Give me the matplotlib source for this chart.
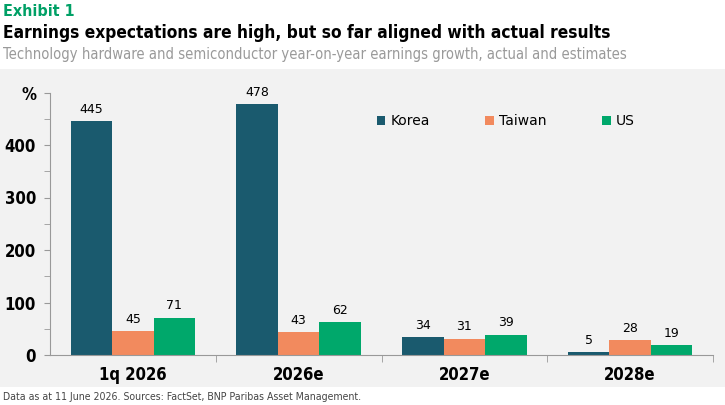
import matplotlib
matplotlib.use("Agg")
import matplotlib.pyplot as plt
from matplotlib.patches import Rectangle
import numpy as np

categories = ["1q 2026", "2026e", "2027e", "2028e"]
series_names = ["Korea", "Taiwan", "US"]
korea = [445, 478, 34, 5]
taiwan = [45, 43, 31, 28]
us = [71, 62, 39, 19]
colors = ["#1a5a6e", "#f28a5e", "#00a86b"]

W, H = 725, 405
fig = plt.figure(figsize=(W / 100, H / 100), dpi=100)
fig.patch.set_facecolor("white")

bg = fig.add_axes([0, 1 - 387 / H, 1, (387 - 69) / H], zorder=-5)
bg.set_axis_off()
bg.add_patch(Rectangle((0, 0), 1, 1, transform=bg.transAxes, facecolor="#f2f2f2", edgecolor="none"))

cond = ["DejaVu Sans"]
kw = dict(family=cond, fontstretch="condensed")
fig.text(3 / W, 1 - 11 / H, "Exhibit 1", color="#00a066", fontsize=11.5, fontweight="bold",
         va="center", ha="left", **kw)
fig.text(3 / W, 1 - 33 / H, "Earnings expectations are high, but so far aligned with actual results",
         color="black", fontsize=12.4, fontweight="bold", va="center", ha="left", **kw)
fig.text(3 / W, 1 - 55 / H, "Technology hardware and semiconductor year-on-year earnings growth, actual and estimates",
         color="#9a9a9a", fontsize=10.6, va="center", ha="left", **kw)
fig.text(3 / W, 1 - 397 / H, "Data as at 11 June 2026. Sources: FactSet, BNP Paribas Asset Management.",
         color="#444444", fontsize=7.6, va="center", ha="left", **kw)

ax = fig.add_axes([50 / W, 1 - 355 / H, (713 - 50) / W, (355 - 92.5) / H])
ax.set_facecolor("none")
x = np.arange(len(categories))
bw = 0.25
data = [korea, taiwan, us]
for i, (name, vals, c) in enumerate(zip(series_names, data, colors)):
    bars = ax.bar(x + (i - 1) * bw, vals, width=bw, color=c, label=name, zorder=2)
    for b, v in zip(bars, vals):
        ax.text(b.get_x() + b.get_width() / 2, v + 10, str(v), ha="center", va="bottom",
                fontsize=9, color="black", family="DejaVu Sans")

ax.set_xlim(-0.5, 3.5)
ax.set_ylim(0, 500)
ax.set_yticks([0, 100, 200, 300, 400, 500])
ax.set_yticklabels(["0", "100", "200", "300", "400", "%"])
ax.set_yticks(np.arange(50, 500, 100), minor=True)
ax.set_xticks(x)
ax.set_xticklabels(categories)
ax.set_xticks([0.5, 1.5, 2.5, 3.5], minor=True)
ax.tick_params(axis="x", which="major", length=0, pad=8, labelsize=12)
ax.tick_params(axis="x", which="minor", length=5, color="#999999")
ax.tick_params(axis="y", which="both", length=4, color="#999999", labelsize=12, pad=6)
for lab in ax.get_xticklabels() + ax.get_yticklabels():
    lab.set_family(cond)
    lab.set_fontstretch("condensed")
    lab.set_fontweight("bold")
for s in ["top", "right"]:
    ax.spines[s].set_visible(False)
for s in ["left", "bottom"]:
    ax.spines[s].set_color("#999999")
    ax.spines[s].set_linewidth(0.8)

leg = ax.legend(loc="upper left", bbox_to_anchor=((371 - 50) / 663, 1 - (119 - 92.5) / 262.5 + 0.04),
                ncol=3, frameon=False, fontsize=10, handlelength=0.6, handleheight=0.6,
                handletextpad=0.4, columnspacing=4.0, borderaxespad=0)

fig.savefig("out.png", dpi=100, facecolor=fig.get_facecolor())
